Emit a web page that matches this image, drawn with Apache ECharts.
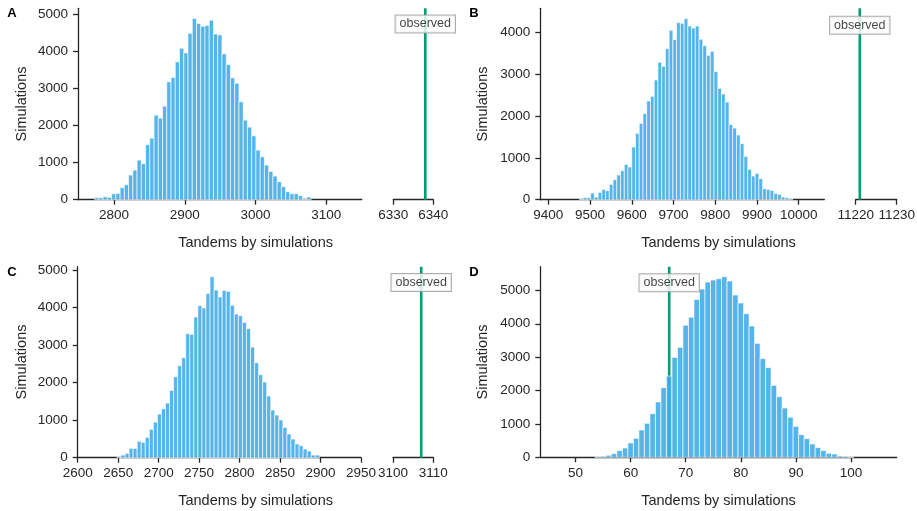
<!DOCTYPE html>
<html>
<head>
<meta charset="utf-8">
<script src="https://cdn.jsdelivr.net/npm/echarts@6/dist/echarts.min.js"></script>
<style>
  html, body { margin: 0; padding: 0; background: #fff; }
  #main { width: 917px; height: 511px; }
</style>
</head>
<body>
<div id="main"></div>
<script>
// histogram data (bin centre of first bar, bin width, counts)
var aStart = 2775.5, aWidth = 6;
var aCounts = [54, 54, 80, 63, 160, 170, 323, 404, 664, 799,
  1068, 969, 1481, 1660, 2280, 2199, 2522, 3177, 3294, 3716,
  4084, 3958, 4487, 4882, 4748, 4676, 4694, 4837, 4470, 4443,
  3931, 3644, 3285, 3141, 2639, 2145, 1957, 1723, 1337, 1158,
  933, 763, 637, 485, 350, 215, 162, 162, 108, 0, 72];
var aObserved = 6338;

var bStart = 9479, bWidth = 8.96;
var bCounts = [24, 48, 48, 159, 64, 175, 247, 215, 367, 478,
  590, 693, 845, 781, 1259, 1586, 1825, 2056, 2359, 2470,
  2860, 3283, 3187, 3609, 4048, 3825, 4231, 4215,
  4327, 4151, 4104, 4151, 3833, 3681, 3450, 3546, 3060, 2661,
  2526, 2335, 1793, 1713, 1546, 1339, 1036, 725, 566, 629,
  502, 263, 247, 223, 151, 127, 64, 48, 32];
var bObserved = 11221;

var cStart = 2651, cWidth = 5;
var cCounts = [36, 71, 115, 249, 249, 435, 409, 542, 755, 950,
  1163, 1305, 1456, 1794, 2158, 2451, 2664, 3304, 3286, 3748,
  4050, 3988, 4378, 4822, 4467, 4281, 4458, 4432, 4059, 3828,
  3783, 3606, 3437, 2948, 2531, 2211, 2016, 1643, 1270, 1137,
  1004, 808, 631, 497, 364, 320, 231, 178, 71, 71];
var cObserved = 3107;

var dStart = 54, dWidth = 1;
var dCounts = [20, 30, 60, 110, 200, 280, 430, 569, 818, 1018,
  1307, 1657, 2086, 2435, 2994, 3293, 3952, 4192, 4730, 5040,
  5249, 5309, 5349, 5409, 5279, 4860, 4621, 4301, 3932, 3413,
  2954, 2685, 2156, 1816, 1477, 1198, 928, 679, 559, 399,
  289, 200, 120, 100, 40, 30, 10];
var dObserved = 67;

// tick labels
var aTicks = [2800, 2900, 3000, 3100];
var aObsTicks = [6330, 6340];
var bTicks = [9400, 9500, 9600, 9700, 9800, 9900, 10000];
var bObsTicks = [11220, 11230];
var cTicks = [2600, 2650, 2700, 2750, 2800, 2850, 2900, 2950];
var cObsTicks = [3100, 3110];
var dTicks = [50, 60, 70, 80, 90, 100];
var countTicks5 = [0, 1000, 2000, 3000, 4000, 5000];
var countTicks4 = [0, 1000, 2000, 3000, 4000];

var FONT = '"Liberation Sans", Arial, Helvetica, sans-serif';
var INK = '#262626';
var BAR = '#43ace7';
var GREEN = '#009E73';

function plain(v) { return String(v); }

function grid(left, top, width, height) {
  return { left: left, top: top, width: width, height: height,
    containLabel: false, outerBoundsMode: 'none' };
}

function xAxis(gi, min, max, ticks) {
  return {
    type: 'value', gridIndex: gi, min: min, max: max,
    axisLine: { show: true, onZero: false, lineStyle: { color: INK, width: 1.3 } },
    axisTick: { show: true, length: 5, customValues: ticks, lineStyle: { color: INK, width: 1.3 } },
    axisLabel: { customValues: ticks, margin: 9, color: INK, fontSize: 13.5,
      fontFamily: FONT, hideOverlap: false, formatter: plain },
    splitLine: { show: false }
  };
}

function yAxis(gi, max, ticks, visible) {
  return {
    type: 'value', gridIndex: gi, min: 0, max: max, show: visible,
    axisLine: { show: true, lineStyle: { color: INK, width: 1.3 } },
    axisTick: { show: true, length: 5, customValues: ticks, lineStyle: { color: INK, width: 1.3 } },
    axisLabel: { customValues: ticks, margin: 10, color: INK, fontSize: 13.5,
      fontFamily: FONT, hideOverlap: false, formatter: plain },
    splitLine: { show: false }
  };
}

function hist(ai, start, width, counts) {
  var data = counts.map(function (v, i) { return [start + i * width, v]; });
  return {
    type: 'custom', xAxisIndex: ai, yAxisIndex: ai, z: 3, silent: true,
    data: data,
    renderItem: function (params, api) {
      var x = api.value(0), y = api.value(1);
      var p0 = api.coord([x - width / 2, y]);
      var p1 = api.coord([x + width / 2, 0]);
      return {
        type: 'rect',
        shape: { x: p0[0], y: p0[1], width: p1[0] - p0[0], height: p1[1] - p0[1] },
        style: { fill: BAR, stroke: 'rgba(255,255,255,0.8)', lineWidth: 0.9, opacity: 0.9 }
      };
    }
  };
}

function observedLine(ai, x, ymax) {
  return {
    type: 'line', xAxisIndex: ai, yAxisIndex: ai, z: 1, silent: true,
    symbol: 'none', data: [[x, 0], [x, ymax]],
    lineStyle: { color: GREEN, width: 2.6 }
  };
}

function observedLabel(ai, x, y) {
  return {
    type: 'scatter', xAxisIndex: ai, yAxisIndex: ai, z: 10, silent: true,
    symbol: 'rect', symbolSize: 1, itemStyle: { color: 'rgba(0,0,0,0)' },
    data: [[x, y]],
    label: {
      show: true, position: 'inside', formatter: 'observed',
      fontSize: 12.5, fontFamily: FONT, color: '#111',
      backgroundColor: '#fff', borderColor: '#999', borderWidth: 1,
      padding: [2, 4, 2, 4]
    }
  };
}

var aMax = 5160, bMax = 4574, cMax = 5089, dMax = 5709;

var option = {
  animation: false,
  backgroundColor: '#fff',
  grid: [
    grid(78, 8.3, 283.7, 191.4),     // A
    grid(393.3, 8.3, 40, 191.4),     // A observed
    grid(540.3, 8.3, 284, 191.4),    // B
    grid(855.7, 8.3, 41, 191.4),     // B observed
    grid(77.7, 266.7, 283.3, 191),   // C
    grid(393, 266.7, 40.3, 191),     // C observed
    grid(540.3, 266.7, 356.4, 190.6) // D
  ],
  xAxis: [
    xAxis(0, 2749, 3150, aTicks),
    xAxis(1, 6330, 6340, aObsTicks),
    xAxis(2, 9380.8, 10061.3, bTicks),
    xAxis(3, 11220, 11230, bObsTicks),
    xAxis(4, 2600, 2950, cTicks),
    xAxis(5, 3100, 3110, cObsTicks),
    xAxis(6, 43.6, 108.3, dTicks)
  ],
  yAxis: [
    yAxis(0, aMax, countTicks5, true),
    yAxis(1, aMax, countTicks5, false),
    yAxis(2, bMax, countTicks4, true),
    yAxis(3, bMax, countTicks4, false),
    yAxis(4, cMax, countTicks5, true),
    yAxis(5, cMax, countTicks5, false),
    yAxis(6, dMax, countTicks5, true)
  ],
  series: [
    hist(0, aStart, aWidth, aCounts),
    observedLine(1, aObserved, aMax),
    observedLabel(1, aObserved, 4736),
    hist(2, bStart, bWidth, bCounts),
    observedLine(3, bObserved, bMax),
    observedLabel(3, bObserved, 4170),
    hist(4, cStart, cWidth, cCounts),
    observedLine(5, cObserved, cMax),
    observedLabel(5, cObserved, 4667),
    hist(6, dStart, dWidth, dCounts),
    observedLine(6, dObserved, dMax),
    observedLabel(6, dObserved, 5228)
  ],
  graphic: [
    { type: 'text', x: 12, y: 13, style: { text: 'A', font: 'bold 13px ' + FONT, fill: '#000', align: 'center', verticalAlign: 'middle' } },
    { type: 'text', x: 474, y: 13, style: { text: 'B', font: 'bold 13px ' + FONT, fill: '#000', align: 'center', verticalAlign: 'middle' } },
    { type: 'text', x: 12, y: 272, style: { text: 'C', font: 'bold 13px ' + FONT, fill: '#000', align: 'center', verticalAlign: 'middle' } },
    { type: 'text', x: 474, y: 272, style: { text: 'D', font: 'bold 13px ' + FONT, fill: '#000', align: 'center', verticalAlign: 'middle' } },

    { type: 'text', x: 255.6, y: 242.5, style: { text: 'Tandems by simulations', font: '14.5px ' + FONT, fill: INK, align: 'center', verticalAlign: 'middle' } },
    { type: 'text', x: 718.5, y: 242.5, style: { text: 'Tandems by simulations', font: '14.5px ' + FONT, fill: INK, align: 'center', verticalAlign: 'middle' } },
    { type: 'text', x: 255.6, y: 501, style: { text: 'Tandems by simulations', font: '14.5px ' + FONT, fill: INK, align: 'center', verticalAlign: 'middle' } },
    { type: 'text', x: 718.5, y: 501, style: { text: 'Tandems by simulations', font: '14.5px ' + FONT, fill: INK, align: 'center', verticalAlign: 'middle' } },

    { type: 'text', x: 21.7, y: 104, rotation: Math.PI / 2, style: { text: 'Simulations', font: '14.5px ' + FONT, fill: INK, align: 'center', verticalAlign: 'middle' } },
    { type: 'text', x: 483.3, y: 104, rotation: Math.PI / 2, style: { text: 'Simulations', font: '14.5px ' + FONT, fill: INK, align: 'center', verticalAlign: 'middle' } },
    { type: 'text', x: 21.7, y: 362, rotation: Math.PI / 2, style: { text: 'Simulations', font: '14.5px ' + FONT, fill: INK, align: 'center', verticalAlign: 'middle' } },
    { type: 'text', x: 483.3, y: 362, rotation: Math.PI / 2, style: { text: 'Simulations', font: '14.5px ' + FONT, fill: INK, align: 'center', verticalAlign: 'middle' } }
  ]
};

var chart = echarts.init(document.getElementById('main'), null, { renderer: 'canvas' });
chart.setOption(option);
</script>
</body>
</html>
